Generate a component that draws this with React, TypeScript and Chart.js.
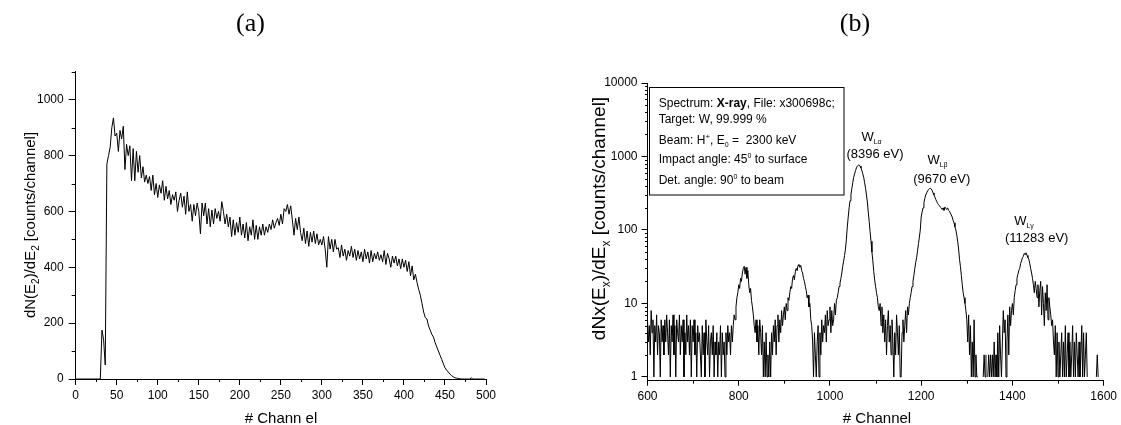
import React, { useEffect, useRef } from "react";
import { Chart, registerables } from "chart.js";
Chart.register(...registerables);

const SANS = "'Liberation Sans', Arial, Helvetica, sans-serif";
const SERIF = "'Liberation Serif', 'Times New Roman', serif";

// ---------- Panel (a): counts per channel, every 2nd channel from 0 ----------
const CHANNEL_START_A = 0;
const CHANNEL_STEP_A = 2;
const COUNTS_A = [
  0, 0, 0, 0, 0, 0, 0, 0, 0, 0,
  0, 0, 0, 0, 0, 0, 175, 140, 50, 770,
  800, 830, 900, 935, 870, 880, 815, 890, 860, 905,
  750, 840, 800, 835, 710, 825, 710, 815, 740, 800,
  720, 760, 705, 730, 700, 725, 675, 730, 660, 700,
  650, 695, 665, 710, 640, 690, 645, 675, 625, 660,
  640, 670, 600, 640, 665, 615, 655, 590, 670, 600,
  625, 565, 625, 585, 630, 600, 520, 630, 585, 630,
  555, 610, 545, 605, 555, 610, 575, 600, 565, 635,
  600, 555, 590, 545, 580, 510, 570, 515, 560, 525,
  580, 515, 555, 505, 560, 495, 545, 515, 570, 500,
  550, 500, 545, 515, 555, 515, 545, 525, 555, 535,
  570, 540, 560, 575, 550, 590, 555, 610, 600, 625,
  590, 620, 570, 515, 575, 535, 580, 525, 495, 540,
  485, 530, 475, 525, 490, 530, 485, 520, 480, 500,
  480, 510, 465, 400, 510, 465, 500, 455, 500, 465,
  470, 435, 480, 440, 465, 425, 460, 440, 475, 435,
  465, 425, 460, 430, 455, 420, 465, 430, 455, 415,
  460, 420, 450, 430, 455, 425, 445, 420, 460, 410,
  450, 430, 400, 440, 415, 440, 405, 430, 395, 430,
  400, 425, 385, 420, 370, 405, 355, 375, 345, 320,
  300, 270, 240, 220, 215, 190, 175, 160, 150, 130,
  115, 100, 85, 70, 55, 40, 32, 25, 18, 12,
  8, 5, 3, 2, 1, 0, 0, 0, 0, 0,
  0, 4, 0, 0, 0, 0, 0, 0, 0, 0,
];
const CHANNELS_A = COUNTS_A.map((_, i) => CHANNEL_START_A + i * CHANNEL_STEP_A);
const X_MINOR_A = [25, 75, 125, 175, 225, 275, 325, 375, 425, 475];
const Y_MINOR_A = [100, 300, 500, 700, 900, 1100];

// ---------- Panel (b): X-ray counts, every 2nd channel from 600 (null = 0 counts) ----------
const CHANNEL_START_B = 600;
const CHANNEL_STEP_B = 2;
const COUNTS_B: (number | null)[] = [
  6, 3, 5, 2, 8, 4, 6, 1, 5, 3, 7, 2, 5, 4, 1, 6, 3, 5, 2, 6,
  3, 7, 4, 2, 6, 1, 5, 3, 7, 2, 5, 1, 6, 4, 3, 7, 2, 5, 3, 6,
  1, 4, 2, 7, 3, 5, 2, 6, 1, 5, 3, 6, 2, 4, 1, 5, 3, 4, 2, 1,
  5, 2, 4, 1, 6, 3, 2, 5, 1, 3, 4, 2, 5, 1, 3, 2, 4, 1, 3, 2,
  5, 1, 4, 2, 3, 1, 4, 2, 5, 3, 4, 2, 5, 3, 5, 7, 6, 9, 12, 14,
  18, 16, 22, 20, 26, 30, 32, 25, 31, 22, 28, 18, 14, 16, 11, 9, 7, 5, 4, 6,
  3, 5, 2, 6, 4, 2, 5, 1, 3, 1, 4, 1, 2, 1, 3, 1, 4, 2, 5, 3,
  6, 2, 5, 7, 3, 6, 4, 8, 5, 7, 9, 6, 10, 8, 12, 11, 14, 17, 16, 22,
  24, 21, 27, 30, 28, 33, 34, 31, 33, 28, 26, 22, 20, 17, 15, 12, 13, 9, 10, 6,
  5, 3, 1, 4, 2, 1, 3, 5, 1, 4, 2, 6, 3, 5, 4, 7, 3, 8, 5, 6,
  9, 4, 8, 5, 6, 10, 7, 11, 12, 14, 17, 19, 22, 26, 32, 38, 45, 55, 75, 110,
  150, 200, 250, 300, 370, 440, 520, 580, 640, 700, 740, 760, 765, 740, 700, 640, 580, 520, 440, 370,
  300, 240, 175, 130, 95, 70, 50, 38, 27, 21, 17, 14, 12, 9, 8, 10, 5, 9, 4, 7,
  3, 6, 2, 5, 8, 3, 5, 2, 6, 3, 1, 4, 2, 7, 4, 2, 5, 1, 1, 4,
  6, 3, 5, 8, 4, 9, 7, 10, 12, 14, 17, 20, 24, 30, 36, 42, 52, 65, 80, 100,
  150, 175, 200, 235, 270, 300, 320, 340, 355, 365, 368, 362, 345, 320, 300, 280, 260, 245, 230, 220,
  215, 205, 200, 190, 200, 185, 205, 195, 190, 200, 185, 180, 170, 160, 150, 135, 125, 110, 100, 85,
  70, 55, 40, 32, 24, 18, 14, 12, 10, 8, 6, 3, 7, 2, 5, 1, 3, 1, 6, 1,
  2, 1, 1, null, null, null, null, null, 1, 2, 1, 2, null, 1, 2, 1, 2, 1, 2, 1,
  3, 1, 2, 1, 4, 1, 5, 2, 1, 3, 8, 4, 6, 1, 3, 7, 2, 9, 5, 8,
  10, 7, 12, 15, 18, 22, 25, 28, 30, 35, 38, 42, 44, 48, 46, 49, 45, 42, 40, 35,
  30, 26, 22, 18, 14, 20, 16, 12, 18, 9, 15, 20, 7, 17, 10, 5, 14, 8, 18, 6,
  12, 9, 7, 5, 6, 3, 2, 5, 1, 4, 1, 3, 1, 2, 4, 1, 3, 1, 5, 1,
  2, 4, 1, 3, 1, 2, 5, 1, 3, 1, 4, 2, 1, 3, 1, 2, 5, 1, 4, 1,
  2, 4, 1, null, null, null, null, null, null, null, null, null, 1, 2, 1, null, null, null, null, null,
];
const CHANNELS_B = COUNTS_B.map((_, i) => CHANNEL_START_B + i * CHANNEL_STEP_B);
const Y_MAJOR_B = [1, 10, 100, 1000, 10000];
const Y_MINOR_B = [2, 3, 4, 5, 6, 7, 8, 9, 20, 30, 40, 50, 60, 70, 80, 90, 200, 300, 400, 500, 600, 700, 800, 900, 2000, 3000, 4000, 5000, 6000, 7000, 8000, 9000];
const X_MINOR_B = [700, 900, 1100, 1300, 1500];

type Seg = { t: string; size?: number; dy?: number; bold?: boolean };

function setFont(ctx: CanvasRenderingContext2D, s: Seg, base: number, family: string) {
  ctx.font = `${s.bold ? "bold " : ""}${s.size ?? base}px ${family}`;
}
function richWidth(ctx: CanvasRenderingContext2D, segs: Seg[], base: number, family: string) {
  let w = 0;
  for (const s of segs) { setFont(ctx, s, base, family); w += ctx.measureText(s.t).width; }
  return w;
}
function drawRich(ctx: CanvasRenderingContext2D, segs: Seg[], x: number, y: number, base: number, family: string, align: "left" | "center") {
  let cx = align === "center" ? x - richWidth(ctx, segs, base, family) / 2 : x;
  ctx.textAlign = "left";
  ctx.textBaseline = "alphabetic";
  for (const s of segs) {
    setFont(ctx, s, base, family);
    ctx.fillText(s.t, cx, y + (s.dy ?? 0));
    cx += ctx.measureText(s.t).width;
  }
}

function minorTicks(chart: any, xs: number[], ys: number[], xl: number, yl: number) {
  const ctx = chart.ctx as CanvasRenderingContext2D;
  const { left, bottom } = chart.chartArea;
  ctx.save();
  ctx.strokeStyle = "#000";
  ctx.lineWidth = 1;
  for (const v of xs) {
    const px = Math.round(chart.scales.x.getPixelForValue(v)) + 0.5;
    ctx.beginPath(); ctx.moveTo(px, bottom); ctx.lineTo(px, bottom + xl); ctx.stroke();
  }
  for (const v of ys) {
    const py = Math.round(chart.scales.y.getPixelForValue(v)) + 0.5;
    ctx.beginPath(); ctx.moveTo(left, py); ctx.lineTo(left - yl, py); ctx.stroke();
  }
  ctx.restore();
}

const tickFont = { family: SANS, size: 12 };

function makeConfigA(): any {
  return {
    type: "line",
    data: {
      datasets: [{
        data: CHANNELS_A.map((x, i) => ({ x, y: COUNTS_A[i] })),
        borderColor: "#000", borderWidth: 1, pointRadius: 0, tension: 0, fill: false,
      }],
    },
    options: {
      animation: false, responsive: false, maintainAspectRatio: false, events: [],
      layout: { padding: { top: 71.8, right: 14, left: 0, bottom: 0 } },
      plugins: { legend: { display: false }, tooltip: { enabled: false }, title: { display: false } },
      scales: {
        x: {
          type: "linear", min: 0, max: 500,
          ticks: { stepSize: 50, color: "#000", font: tickFont, padding: 3, maxRotation: 0, autoSkip: false, callback: (v: any) => String(v) },
          grid: { drawOnChartArea: false, drawTicks: true, tickLength: 6, color: "#000" },
          border: { display: true, color: "#000", width: 1 },
          afterFit: (s: any) => { s.height = 46; },
        },
        y: {
          type: "linear", min: 0, max: 1100,
          ticks: { stepSize: 200, includeBounds: false, color: "#000", font: tickFont, padding: 5, autoSkip: false, callback: (v: any) => String(v) },
          afterBuildTicks: (s: any) => { s.ticks = s.ticks.filter((t: any) => t.value % 200 === 0); },
          grid: { drawOnChartArea: false, drawTicks: true, tickLength: 7, color: "#000" },
          border: { display: true, color: "#000", width: 1 },
          afterFit: (s: any) => { s.width = 75.7; },
        },
      },
    },
    plugins: [{
      id: "decorA",
      afterDraw(chart: any) {
        minorTicks(chart, X_MINOR_A, Y_MINOR_A, 3, 4);
        const ctx = chart.ctx as CanvasRenderingContext2D;
        ctx.save();
        ctx.fillStyle = "#000";
        drawRich(ctx, [{ t: "(a)" }], 250.5, 31, 26, SERIF, "center");
        drawRich(ctx, [{ t: "# Chann el" }], 281, 423, 15, SANS, "center");
        ctx.translate(30, 225);
        ctx.rotate(-Math.PI / 2);
        drawRich(ctx, [
          { t: "dN(E" }, { t: "2", size: 10, dy: 4 }, { t: ")/dE" }, { t: "2", size: 10, dy: 4 }, { t: " [counts/channel]" },
        ], 0, 5, 15, SANS, "center");
        ctx.restore();
      },
    }],
  };
}

function makeConfigB(): any {
  return {
    type: "line",
    data: {
      datasets: [{
        data: CHANNELS_B.map((x, i) => ({ x, y: COUNTS_B[i] })),
        borderColor: "#000", borderWidth: 1, pointRadius: 0, tension: 0, fill: false, spanGaps: false,
      }],
    },
    options: {
      animation: false, responsive: false, maintainAspectRatio: false, events: [],
      layout: { padding: { top: 83, right: 14.3, left: 0, bottom: 0 } },
      plugins: { legend: { display: false }, tooltip: { enabled: false }, title: { display: false } },
      scales: {
        x: {
          type: "linear", min: 600, max: 1600,
          ticks: { stepSize: 200, color: "#000", font: tickFont, padding: 4, maxRotation: 0, autoSkip: false, callback: (v: any) => String(v) },
          grid: { drawOnChartArea: false, drawTicks: true, tickLength: 5, color: "#000" },
          border: { display: true, color: "#000", width: 1 },
          afterFit: (s: any) => { s.height = 44.3; },
        },
        y: {
          type: "logarithmic", min: 0.89, max: 10000,
          ticks: { color: "#000", font: tickFont, padding: 4, autoSkip: false, callback: (v: any) => String(v) },
          afterBuildTicks: (s: any) => { s.ticks = Y_MAJOR_B.map((value) => ({ value })); },
          grid: { drawOnChartArea: false, drawTicks: true, tickLength: 6, color: "#000" },
          border: { display: true, color: "#000", width: 1 },
          afterFit: (s: any) => { s.width = 87.5; },
        },
      },
    },
    plugins: [{
      id: "decorB",
      afterDraw(chart: any) {
        minorTicks(chart, X_MINOR_B, Y_MINOR_B, 3, 2.5);
        const ctx = chart.ctx as CanvasRenderingContext2D;
        ctx.save();
        ctx.fillStyle = "#000";
        ctx.strokeStyle = "#000";
        drawRich(ctx, [{ t: "(b)" }], 295, 31, 26, SERIF, "center");
        drawRich(ctx, [{ t: "# Channel" }], 317, 422.5, 15, SANS, "center");

        // info box
        ctx.lineWidth = 1;
        ctx.strokeRect(89.5, 87.5, 194.5, 107.5);
        const bx = 98.7;
        drawRich(ctx, [{ t: "Spectrum: " }, { t: "X-ray", bold: true }, { t: ", File: x300698c;" }], bx, 106.7, 12, SANS, "left");
        drawRich(ctx, [{ t: "Target: W, 99.999 %" }], bx, 123.3, 12, SANS, "left");
        drawRich(ctx, [{ t: "Beam: H" }, { t: "+", size: 8, dy: -5 }, { t: ", E" }, { t: "0", size: 7, dy: 3 }, { t: " =  2300 keV" }], bx, 144, 12, SANS, "left");
        drawRich(ctx, [{ t: "Impact angle: 45" }, { t: "0", size: 7, dy: -5 }, { t: " to surface" }], bx, 163.3, 12, SANS, "left");
        drawRich(ctx, [{ t: "Det. angle: 90" }, { t: "0", size: 7, dy: -5 }, { t: " to beam" }], bx, 184, 12, SANS, "left");

        // peak labels
        drawRich(ctx, [{ t: "W" }, { t: "Lα", size: 7, dy: 3 }], 311.5, 141, 13, SANS, "center");
        drawRich(ctx, [{ t: "(8396 eV)" }], 315, 158.3, 13, SANS, "center");
        drawRich(ctx, [{ t: "W" }, { t: "Lβ", size: 7, dy: 3 }], 377.5, 164.3, 13, SANS, "center");
        drawRich(ctx, [{ t: "(9670 eV)" }], 381.7, 183.3, 13, SANS, "center");
        drawRich(ctx, [{ t: "W" }, { t: "Lγ", size: 7, dy: 3 }], 464, 225, 13, SANS, "center");
        drawRich(ctx, [{ t: "(11283 eV)" }], 476.7, 241.7, 13, SANS, "center");

        // y title
        ctx.translate(38, 218.5);
        ctx.rotate(-Math.PI / 2);
        drawRich(ctx, [
          { t: "dNx(E" }, { t: "x", size: 12, dy: 5 }, { t: ")/dE" }, { t: "x", size: 12, dy: 5 }, { t: " [counts/channel]" },
        ], 0, 6.5, 19, SANS, "center");
        ctx.restore();
      },
    }],
  };
}

export default function App() {
  const refA = useRef<HTMLCanvasElement>(null);
  const refB = useRef<HTMLCanvasElement>(null);
  useEffect(() => {
    const a = new Chart(refA.current as HTMLCanvasElement, makeConfigA());
    const b = new Chart(refB.current as HTMLCanvasElement, makeConfigB());
    return () => { a.destroy(); b.destroy(); };
  }, []);
  return (
    <div style={{ position: "absolute", left: 0, top: 0, width: 1121, height: 425, background: "#fff", overflow: "hidden" }}>
      <canvas ref={refA} width={500} height={425} style={{ position: "absolute", left: 0, top: 0, width: 500, height: 425 }} />
      <canvas ref={refB} width={561} height={425} style={{ position: "absolute", left: 560, top: 0, width: 561, height: 425 }} />
    </div>
  );
}
